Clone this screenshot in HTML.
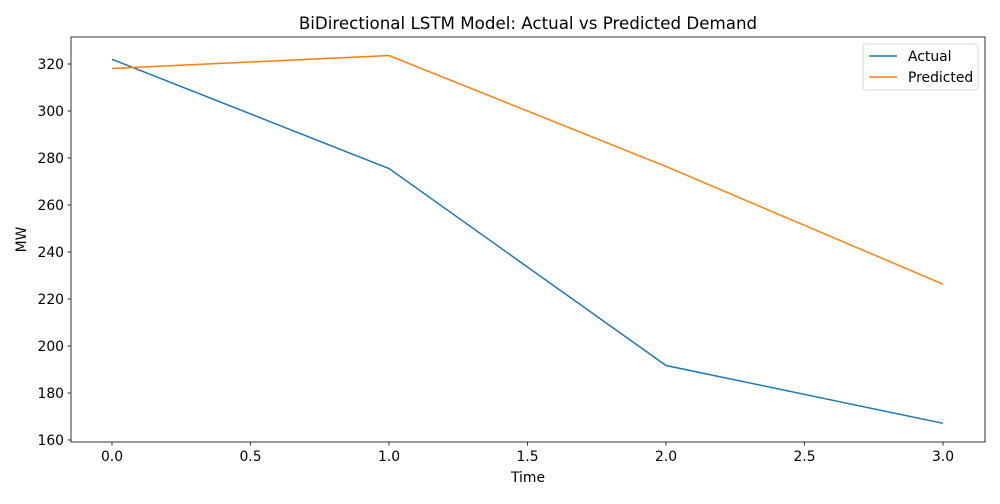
<!DOCTYPE html>
<html><head><meta charset="utf-8"><style>
body{margin:0;background:#fff;font-family:"DejaVu Sans","Liberation Sans",sans-serif;}
svg text{font-family:"DejaVu Sans","Liberation Sans",sans-serif;fill:#000;}
</style></head><body>
<svg id="chart" width="1000" height="500" xmlns="http://www.w3.org/2000/svg">
<rect width="1000" height="500" fill="#fff"/>
<g id="plot"></g>
</svg>
<script>
const timeValues=[0,1,2,3];
const actualValues=[322,275.5,191.7,167.1];
const predictedValues=[318.1,323.6,276.4,226.3];
const xTickValues=[0,0.5,1,1.5,2,2.5,3];
const xTickLabels=["0.0","0.5","1.0","1.5","2.0","2.5","3.0"];
const yTickValues=[160,180,200,220,240,260,280,300,320];

const L=71,R=985,T=37,B=442;
const xs=v=>112+v*(943-112)/3;
const ys=v=>440-(v-160)*(440-64)/160;
const g=document.getElementById('plot');
const NS='http://www.w3.org/2000/svg';
function mk(tag,attrs,parent){const e=document.createElementNS(NS,tag);for(const k in attrs)e.setAttribute(k,attrs[k]);(parent||g).appendChild(e);return e;}

function line(vals,color,name){
  const p=mk('polyline',{points:vals.map((v,i)=>xs(timeValues[i])+','+ys(v)).join(' '),fill:'none',stroke:color,'stroke-width':1.5});
  
  
}
line(actualValues,'#1f77b4','actual-line');
line(predictedValues,'#ff7f0e','predicted-line');

const frame=mk('rect',{x:L,y:T,width:R-L,height:B-T,fill:'none',stroke:'#000','stroke-width':0.8});



xTickValues.forEach((v,i)=>{
  const x=xs(v);
  mk('line',{x1:x,x2:x,y1:B,y2:B+3.5,stroke:'#000','stroke-width':0.8});
  const t=mk('text',{x:x,y:B+19,'text-anchor':'middle','font-size':13.9});
  t.textContent=xTickLabels[i];
  
  
});
yTickValues.forEach(v=>{
  const y=ys(v);
  mk('line',{x1:L,x2:L-3.5,y1:y,y2:y,stroke:'#000','stroke-width':0.8});
  const t=mk('text',{x:L-7,y:y+5,'text-anchor':'end','font-size':13.9});
  t.textContent=String(v);
  
  
});

const title=mk('text',{x:(L+R)/2,y:29,'text-anchor':'middle','font-size':16.7});
title.textContent='BiDirectional LSTM Model: Actual vs Predicted Demand';


const xl=mk('text',{x:(L+R)/2,y:482,'text-anchor':'middle','font-size':13.9});
xl.textContent='Time';


const yl=mk('text',{x:26,y:(T+B)/2,'text-anchor':'middle','font-size':13.9,transform:'rotate(-90 26 '+((T+B)/2)+')'});
yl.textContent='MW';



const lg=mk('g',{});


mk('rect',{x:863,y:44,width:115,height:46,rx:3,fill:'#fff',stroke:'#ccc','stroke-width':0.8},lg);
[['Actual','#1f77b4'],['Predicted','#ff7f0e']].forEach((d,i)=>{
  const y=56+i*21;
  mk('line',{x1:869,x2:897,y1:y,y2:y,stroke:d[1],'stroke-width':1.5},lg);
  const t=mk('text',{x:908,y:y+5,'font-size':13.9},lg);
  t.textContent=d[0];
  
  
});
</script>
</body></html>
